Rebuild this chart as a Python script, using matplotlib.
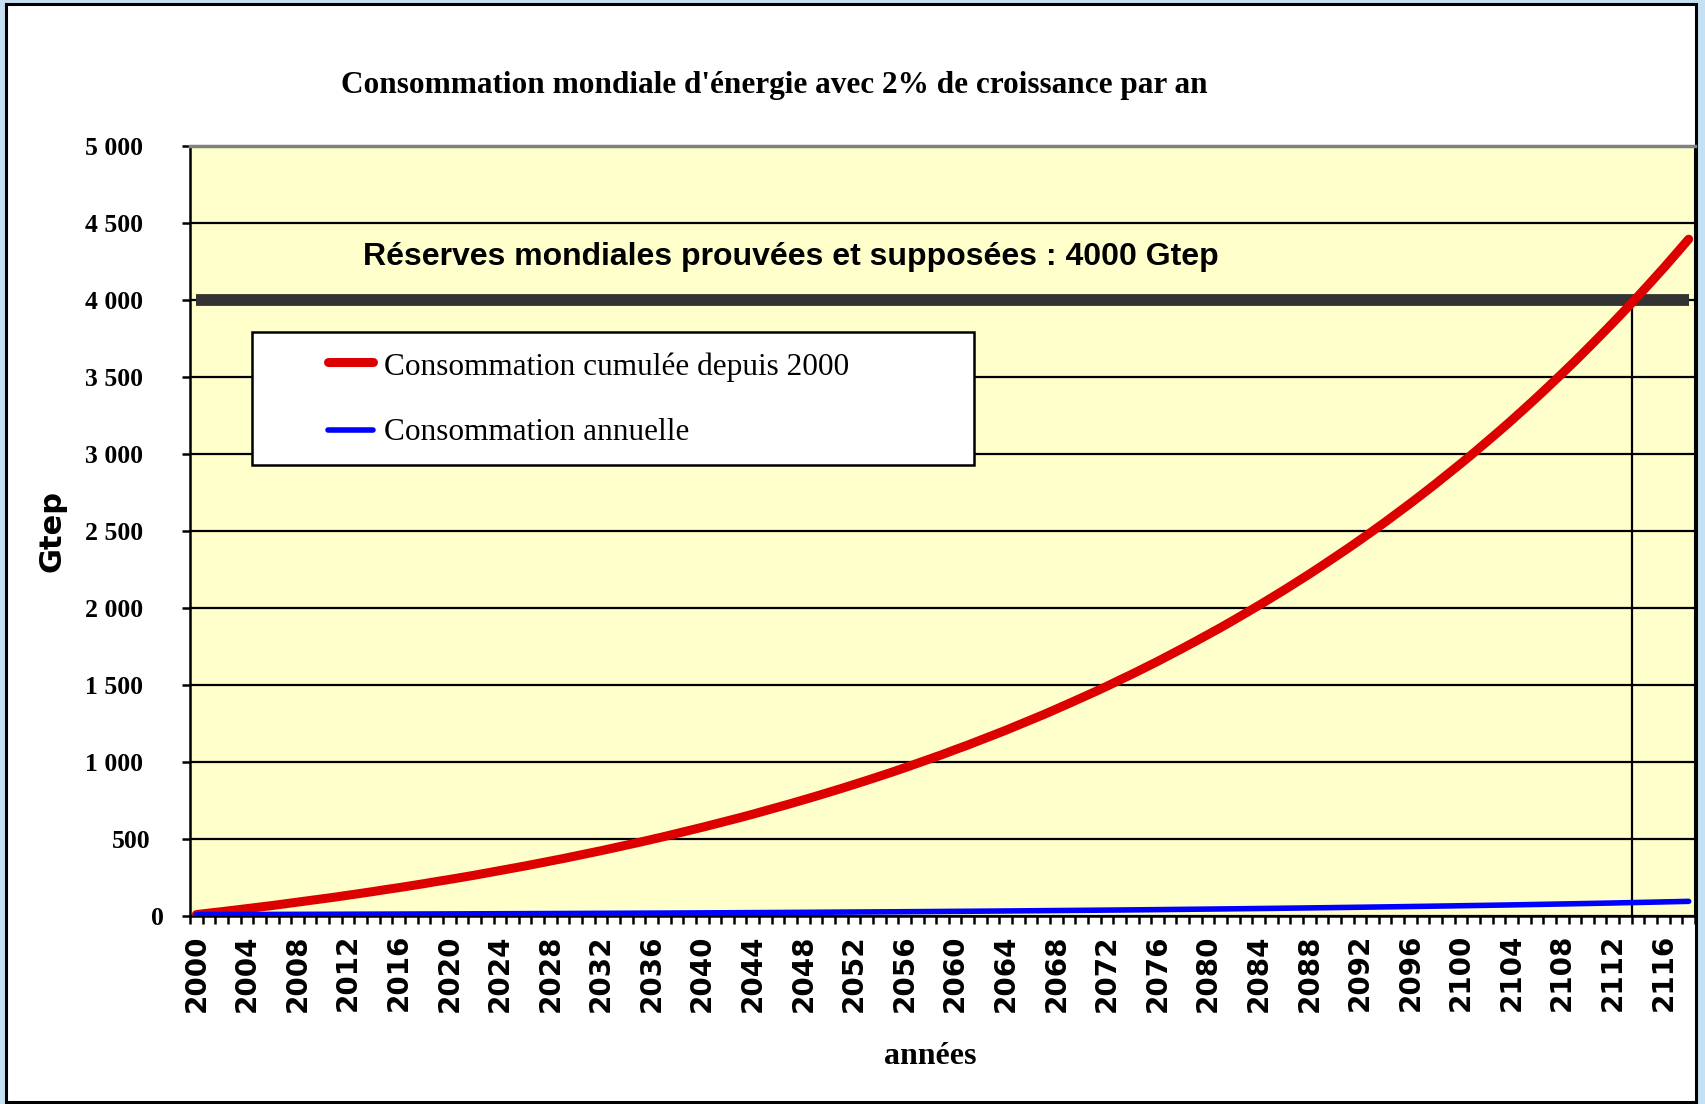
import matplotlib
matplotlib.use("Agg")
import matplotlib.pyplot as plt
import numpy as np
from matplotlib.patches import Rectangle
from matplotlib.lines import Line2D
from matplotlib.transforms import ScaledTranslation

# ---------------- data ----------------
years = list(range(2000, 2119))

annual = [
    9.2, 9.4, 9.6, 9.8, 10.0, 10.2, 10.4, 10.6, 10.8, 11.0,
    11.2, 11.4, 11.7, 11.9, 12.1, 12.4, 12.6, 12.9, 13.1, 13.4,
    13.7, 13.9, 14.2, 14.5, 14.8, 15.1, 15.4, 15.7, 16.0, 16.3,
    16.7, 17.0, 17.3, 17.7, 18.0, 18.4, 18.8, 19.1, 19.5, 19.9,
    20.3, 20.7, 21.1, 21.6, 22.0, 22.4, 22.9, 23.3, 23.8, 24.3,
    24.8, 25.3, 25.8, 26.3, 26.8, 27.3, 27.9, 28.4, 29.0, 29.6,
    30.2, 30.8, 31.4, 32.0, 32.7, 33.3, 34.0, 34.7, 35.4, 36.1,
    36.8, 37.5, 38.3, 39.0, 39.8, 40.6, 41.4, 42.3, 43.1, 44.0,
    44.9, 45.8, 46.7, 47.6, 48.6, 49.5, 50.5, 51.5, 52.6, 53.6,
    54.7, 55.8, 56.9, 58.0, 59.2, 60.4, 61.6, 62.8, 64.1, 65.3,
    66.7, 68.0, 69.3, 70.7, 72.1, 73.6, 75.1, 76.6, 78.1, 79.7,
    81.2, 82.9, 84.5, 86.2, 87.9, 89.7, 91.5, 93.3, 95.2,
]

cumulative = [
    9, 19, 28, 38, 48, 58, 68, 79, 90, 101,
    112, 123, 135, 147, 159, 172, 184, 197, 210, 224,
    237, 251, 265, 280, 295, 310, 325, 341, 357, 373,
    390, 407, 424, 442, 460, 478, 497, 516, 536, 556,
    576, 597, 618, 639, 661, 684, 707, 730, 754, 778,
    803, 828, 854, 880, 907, 934, 962, 991, 1020, 1049,
    1080, 1110, 1142, 1174, 1206, 1240, 1274, 1308, 1344, 1380,
    1417, 1454, 1492, 1532, 1571, 1612, 1653, 1696, 1739, 1783,
    1828, 1873, 1920, 1968, 2016, 2066, 2116, 2168, 2220, 2274,
    2329, 2384, 2441, 2499, 2558, 2619, 2680, 2743, 2807, 2873,
    2939, 3007, 3077, 3147, 3219, 3293, 3368, 3445, 3523, 3602,
    3684, 3767, 3851, 3937, 4025, 4115, 4206, 4300, 4395,
]

reserves = 4000
reserves_level = [reserves] * len(years)

y_ticks = [0, 500, 1000, 1500, 2000, 2500, 3000, 3500, 4000, 4500, 5000]
y_tick_labels = ["0", "500", "1 000", "1 500", "2 000", "2 500", "3 000",
                 "3 500", "4 000", "4 500", "5 000"]

title = "Consommation mondiale d'énergie avec 2% de croissance par an"
reserve_text = "Réserves mondiales prouvées et supposées : 4000 Gtep"
label_cum = "Consommation cumulée depuis 2000"
label_ann = "Consommation annuelle"

# ---------------- figure ----------------
W, H = 1706, 1104
fig = plt.figure(figsize=(W / 100, H / 100), dpi=100, facecolor="#c4e0f2")


def fx(px):
    return px / W


def fy(py):
    return 1 - py / H


# white chart frame
fig.add_artist(Rectangle((fx(6), fy(1102)), fx(1696) - fx(6), fy(4) - fy(1102),
                         transform=fig.transFigure, facecolor="white",
                         edgecolor="black", linewidth=2.2, zorder=0))

ax_l, ax_r, ax_t, ax_b = 190, 1695, 146, 916
ax = fig.add_axes([fx(ax_l), fy(ax_b), fx(ax_r) - fx(ax_l), fy(ax_t) - fy(ax_b)])
ax.set_facecolor("#ffffcc")

x = np.arange(len(years))

ax.set_xlim(-0.5, len(years) - 0.5)
ax.set_ylim(0, 5000)

# grid
ax.set_yticks(y_ticks)
ax.yaxis.grid(True, color="black", linewidth=1.6, zorder=1)
ax.set_axisbelow(True)

# series
ax.plot(x, reserves_level, color="#333333", linewidth=8.5, solid_capstyle="butt", zorder=3)
cross = next(i for i, v in enumerate(cumulative) if v >= reserves) - 0.5
ax.vlines(cross, 0, reserves, color="black", linewidth=1.6, zorder=2)
ax.plot(x, cumulative, color="#dd0000", linewidth=6.5, solid_capstyle="round",
        solid_joinstyle="round", zorder=4)
ax.plot(x, annual, color="#0000ff", linewidth=4.0, solid_capstyle="round", zorder=5)

# spines
for s in ["left", "bottom"]:
    ax.spines[s].set_color("black")
    ax.spines[s].set_linewidth(1.8)
ax.spines["top"].set_color("#808080")
ax.spines["top"].set_linewidth(2.5)
ax.spines["right"].set_color("black")
ax.spines["right"].set_linewidth(2.2)

# y ticks
ax.set_yticklabels(y_tick_labels, fontfamily="Liberation Serif", fontweight="bold",
                   fontsize=18.5)
ax.tick_params(axis="y", length=6, width=1.8, pad=28)
shift = {"0": 21, "500": 8}
for lab in ax.get_yticklabels():
    dx = shift.get(lab.get_text(), 0)
    if dx:
        lab.set_transform(lab.get_transform() + ScaledTranslation(dx / 100, 0, fig.dpi_scale_trans))

# x ticks: marks at category boundaries, labels at centers every 4 years
ax.set_xticks(np.arange(-0.5, len(years), 1.0))
ax.set_xticklabels([])
ax.tick_params(axis="x", which="major", length=6, width=1.8)
lab_idx = x[::4]
ax.set_xticks(lab_idx, minor=True)
ax.set_xticklabels([str(years[i]) for i in lab_idx], minor=True, rotation=90,
                   fontfamily="DejaVu Sans", fontweight="bold", fontsize=20)
ax.tick_params(axis="x", which="minor", length=0, pad=13)

# texts
fig.text(fx(774), fy(85), title, ha="center", va="center",
         fontfamily="Liberation Serif", fontweight="bold", fontsize=22.5)
fig.text(fx(791), fy(257), reserve_text, ha="center", va="center",
         fontfamily="Liberation Sans", fontweight="bold", fontsize=23)
fig.text(fx(52), fy(531), "Gtep", ha="center", va="center", rotation=90,
         fontfamily="DejaVu Sans", fontweight="bold", fontsize=22)
fig.text(fx(930), fy(1056), "années", ha="center", va="center",
         fontfamily="Liberation Serif", fontweight="bold", fontsize=23)

# legend (manual box)
fig.add_artist(Rectangle((fx(252), fy(465)), fx(974) - fx(252), fy(332) - fy(465),
                         transform=fig.transFigure, facecolor="white",
                         edgecolor="black", linewidth=1.8, zorder=10))
for yy, ty, col, lw, txt in [(362, 367, "#dd0000", 6.5, label_cum),
                             (430, 432, "#0000ff", 4.0, label_ann)]:
    fig.add_artist(Line2D([fx(328), fx(373)], [fy(yy), fy(yy)], transform=fig.transFigure,
                          color=col, linewidth=lw, solid_capstyle="round", zorder=11))
    fig.text(fx(384), fy(ty), txt, ha="left", va="center", fontfamily="Liberation Serif",
             fontsize=22.5, zorder=12)

fig.savefig("out.png", dpi=100, facecolor=fig.get_facecolor())
